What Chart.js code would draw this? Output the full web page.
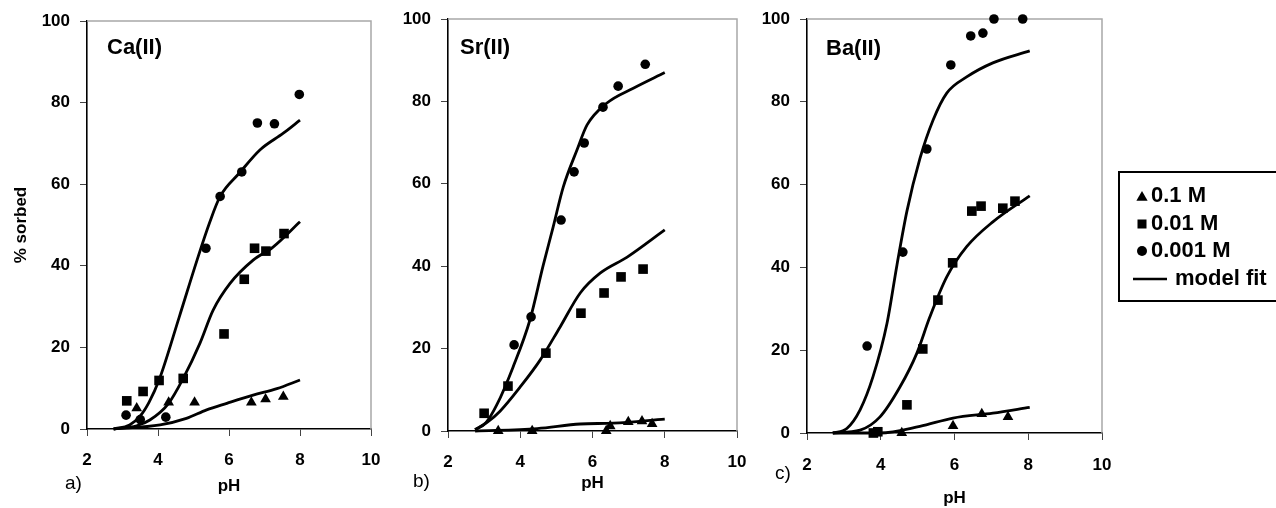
<!DOCTYPE html>
<html><head><meta charset="utf-8">
<script src="https://cdn.jsdelivr.net/npm/chart.js@4/dist/chart.umd.min.js"></script>
<style>
html,body{margin:0;padding:0;background:#fff;}
#wrap{position:relative;width:1276px;height:508px;overflow:hidden;background:#fff;}
canvas{position:absolute;top:0;}
</style></head><body>
<div id="wrap">
<canvas id="ca" width="390" height="508" style="left:0px"></canvas>
<canvas id="sr" width="365" height="508" style="left:390px"></canvas>
<canvas id="ba" width="521" height="508" style="left:755px"></canvas>
</div>
<script>
// ---------- tick labels / text ----------
const xTicks = [2, 4, 6, 8, 10];
const yTicks = [0, 20, 40, 60, 80, 100];
const panelTitles = ['Ca(II)', 'Sr(II)', 'Ba(II)'];
const panelLetters = ['a)', 'b)', 'c)'];
const xTitle = 'pH';
const yTitle = '% sorbed';
const legendLabels = ['0.1 M', '0.01 M', '0.001 M', 'model fit'];

// ---------- Ca(II) ----------
const caTriPH  = [3.4, 4.3, 5.03, 6.63, 7.03, 7.53];
const caTriPct = [5.1, 6.5, 6.5, 6.5, 7.3, 7.9];
const caSqPH   = [3.12, 3.58, 4.03, 4.71, 5.86, 6.43, 6.72, 7.04, 7.55];
const caSqPct  = [6.9, 9.2, 11.9, 12.4, 23.3, 36.7, 44.3, 43.6, 47.9];
const caCirPH  = [3.1, 3.5, 4.22, 5.35, 5.75, 6.36, 6.8, 7.28, 7.98];
const caCirPct = [3.4, 2.3, 2.9, 44.3, 57, 63, 75, 74.8, 82];
const caFit1PH  = [2.75, 4.06, 4.8, 5.37, 5.94, 6.68, 7.35, 8.0];
const caFit1Pct = [0, 1, 2.6, 4.7, 6.3, 8.3, 9.9, 12.0];
const caFit2PH  = [2.75, 3.4, 3.77, 4.3, 4.71, 5.18, 5.55, 6.03, 6.68, 7.24, 8.0];
const caFit2Pct = [0, 0.8, 2.2, 6.3, 12.4, 21, 29.1, 35.7, 41.4, 44.6, 50.8];
const caFit3PH  = [2.75, 3.2, 3.5, 3.75, 4.03, 4.6, 5.1, 5.45, 5.75, 6.3, 6.87, 7.53, 8.0];
const caFit3Pct = [0, 1.0, 3.2, 6.6, 12, 27.5, 41.4, 50.5, 57, 62.8, 68.4, 72.5, 75.7];

// ---------- Sr(II) ----------
const srTriPH  = [3.39, 4.33, 6.38, 6.49, 6.99, 7.37, 7.65];
const srTriPct = [0, 0, 0, 1.2, 2.2, 2.4, 1.7];
const srSqPH   = [3.0, 3.66, 4.71, 5.68, 6.32, 6.79, 7.40];
const srSqPct  = [4.3, 10.9, 18.9, 28.6, 33.5, 37.4, 39.3];
const srCirPH  = [3.83, 4.30, 5.13, 5.49, 5.77, 6.29, 6.71, 7.46];
const srCirPct = [20.9, 27.7, 51.2, 62.9, 69.9, 78.6, 83.7, 89];
const srFit1PH  = [2.75, 4.47, 5.66, 6.57, 8.0];
const srFit1Pct = [0, 0.6, 1.7, 1.9, 2.9];
const srFit2PH  = [2.75, 3.1, 3.44, 4.0, 4.55, 5.1, 5.66, 6.21, 6.96, 8.0];
const srFit2Pct = [0.3, 2.2, 4.8, 10.7, 17.2, 25.2, 33.5, 38.3, 42.2, 48.8];
const srFit3PH  = [2.75, 3.05, 3.36, 3.8, 4.27, 4.63, 4.91, 5.19, 5.57, 5.85, 6.40, 7.13, 8.0];
const srFit3Pct = [0.3, 2.0, 6.5, 15.5, 27, 40, 49.5, 59.2, 68.2, 74.3, 79.6, 83.2, 87];

// ---------- Ba(II) ----------
const baTriPH  = [3.82, 4.57, 5.96, 6.74, 7.45];
const baTriPct = [0, 0, 1.7, 4.6, 3.9];
const baSqPH   = [3.8, 3.92, 4.71, 5.14, 5.55, 5.95, 6.47, 6.72, 7.31, 7.64];
const baSqPct  = [0, 0.3, 6.8, 20.3, 32.1, 41.1, 53.6, 54.8, 54.3, 56.0];
const baCirPH  = [3.63, 4.6, 5.25, 5.9, 6.44, 6.77, 7.07, 7.85];
const baCirPct = [21, 43.7, 68.6, 88.9, 95.9, 96.6, 100, 100];
const baFit1PH  = [2.7, 3.98, 5.06, 5.96, 7.04, 8.04];
const baFit1Pct = [0, 0, 1.6, 3.6, 4.8, 6.2];
const baFit2PH  = [2.7, 3.44, 3.98, 4.52, 4.98, 5.33, 5.79, 6.33, 7.04, 8.04];
const baFit2Pct = [0, 0.7, 3.9, 11.1, 19.3, 28, 37.7, 45, 51, 57.3];
const baFit3PH  = [2.7, 3.08, 3.44, 3.79, 4.17, 4.44, 4.71, 5.06, 5.42, 5.79, 6.33, 7.04, 8.04];
const baFit3Pct = [0, 1.1, 5.6, 13.6, 26.5, 40.6, 53.6, 66.2, 75.6, 82.1, 86, 89.4, 92.3];

// ---------- rendering ----------
const FONT = '"Liberation Sans", Arial, Helvetica, sans-serif';
Chart.defaults.font.family = FONT;
Chart.defaults.color = '#000';

function pts(xs, ys) { return xs.map((x, i) => ({ x: x, y: ys[i] })); }

function fitDs(xs, ys) {
  return { data: pts(xs, ys), showLine: true, borderColor: '#000', borderWidth: 2.8,
    pointRadius: 0, cubicInterpolationMode: 'monotone', fill: false, clip: false, order: 1 };
}
function markDs(xs, ys, style, r) {
  return { data: pts(xs, ys), showLine: false, pointStyle: style, pointRadius: r,
    backgroundColor: '#000', borderColor: '#000', borderWidth: 0, clip: false, order: 0 };
}

const panels = [
  { id: 'ca', left: 0, yW: 87, xH: 79, padR: 19, padT: 21, tickPad: 14,
    titleX: 107, titleY: 48, letterX: 65, letterY: 484, phY: 486, yTitle: true, legend: false,
    tri: [caTriPH, caTriPct], sq: [caSqPH, caSqPct], cir: [caCirPH, caCirPct],
    fits: [[caFit1PH, caFit1Pct], [caFit2PH, caFit2Pct], [caFit3PH, caFit3Pct]] },
  { id: 'sr', left: 390, yW: 58, xH: 77, padR: 18, padT: 19, tickPad: 14,
    titleX: 460, titleY: 48, letterX: 413, letterY: 482, phY: 483, yTitle: false, legend: false,
    tri: [srTriPH, srTriPct], sq: [srSqPH, srSqPct], cir: [srCirPH, srCirPct],
    fits: [[srFit1PH, srFit1Pct], [srFit2PH, srFit2Pct], [srFit3PH, srFit3Pct]] },
  { id: 'ba', left: 755, yW: 52, xH: 75, padR: 174, padT: 19, tickPad: 15,
    titleX: 826, titleY: 49, letterX: 775, letterY: 474, phY: 498, yTitle: false, legend: true,
    tri: [baTriPH, baTriPct], sq: [baSqPH, baSqPct], cir: [baCirPH, baCirPct],
    fits: [[baFit1PH, baFit1Pct], [baFit2PH, baFit2Pct], [baFit3PH, baFit3Pct]] }
];

function drawTri(ctx, x, y, r) {
  ctx.beginPath();
  ctx.moveTo(x, y - r);
  ctx.lineTo(x + r * 0.866, y + r * 0.5);
  ctx.lineTo(x - r * 0.866, y + r * 0.5);
  ctx.closePath(); ctx.fill();
}

panels.forEach((p, idx) => {
  const L = p.left;
  const framePlugin = {
    id: 'frame' + idx,
    beforeDatasetsDraw(chart) {
      const a = chart.chartArea, ctx = chart.ctx;
      ctx.save();
      ctx.strokeStyle = '#a8a8a8'; ctx.lineWidth = 1.5;
      ctx.beginPath();
      ctx.moveTo(a.left, a.top); ctx.lineTo(a.right, a.top); ctx.lineTo(a.right, a.bottom);
      ctx.stroke();
      ctx.restore();
    },
    afterDraw(chart) {
      const a = chart.chartArea, ctx = chart.ctx;
      ctx.save();
      ctx.fillStyle = '#000';
      ctx.textBaseline = 'middle';
      ctx.font = 'bold 22px ' + FONT; ctx.textAlign = 'left';
      ctx.fillText(panelTitles[idx], p.titleX - L, p.titleY);
      ctx.font = '19px ' + FONT;
      ctx.fillText(panelLetters[idx], p.letterX - L, p.letterY);
      ctx.font = 'bold 17px ' + FONT; ctx.textAlign = 'center';
      ctx.fillText(xTitle, (a.left + a.right) / 2, p.phY);
      if (p.yTitle) {
        ctx.save();
        ctx.translate(21, (a.top + a.bottom) / 2);
        ctx.rotate(-Math.PI / 2);
        ctx.font = 'bold 17px ' + FONT;
        ctx.fillText(yTitle, 0, 0);
        ctx.restore();
      }
      if (p.legend) {
        const bx = 1119 - L, by = 172, bh = 129;
        ctx.strokeStyle = '#000'; ctx.lineWidth = 2;
        ctx.strokeRect(bx, by, 200, bh);
        const mx = 1142 - L, tx = 1151 - L;
        const rows = [196, 224, 251, 279];
        drawTri(ctx, mx, rows[0] + 1.5, 6.5);
        ctx.fillRect(mx - 4.5, rows[1] - 4.5, 9, 9);
        ctx.beginPath(); ctx.arc(mx, rows[2], 5, 0, Math.PI * 2); ctx.fill();
        ctx.lineWidth = 2.6;
        ctx.beginPath(); ctx.moveTo(1133 - L, rows[3]); ctx.lineTo(1167 - L, rows[3]); ctx.stroke();
        ctx.font = 'bold 22px ' + FONT; ctx.textAlign = 'left';
        ctx.fillText(legendLabels[0], tx, rows[0]);
        ctx.fillText(legendLabels[1], tx, rows[1]);
        ctx.fillText(legendLabels[2], tx, rows[2]);
        ctx.fillText(legendLabels[3], 1175 - L, rows[3]);
      }
      ctx.restore();
    }
  };

  new Chart(document.getElementById(p.id), {
    type: 'scatter',
    data: {
      datasets: [
        fitDs(p.fits[0][0], p.fits[0][1]),
        fitDs(p.fits[1][0], p.fits[1][1]),
        fitDs(p.fits[2][0], p.fits[2][1]),
        markDs(p.tri[0], p.tri[1], 'triangle', 6.2),
        markDs(p.sq[0], p.sq[1], 'rect', 6.8),
        markDs(p.cir[0], p.cir[1], 'circle', 4.8)
      ]
    },
    options: {
      responsive: false,
      animation: false,
      events: [],
      layout: { autoPadding: false, padding: { left: 0, top: p.padT, right: p.padR, bottom: 0 } },
      plugins: { legend: { display: false }, tooltip: { enabled: false }, title: { display: false } },
      scales: {
        x: {
          type: 'linear', min: 2, max: 10,
          afterBuildTicks: s => { s.ticks = xTicks.map(v => ({ value: v })); },
          afterFit: s => { s.height = p.xH; s.paddingLeft = 0; s.paddingRight = 0; },
          ticks: { font: { size: 17, weight: 'bold' }, color: '#000', padding: p.tickPad, maxRotation: 0 },
          grid: { drawOnChartArea: false, drawTicks: true, tickLength: 7, color: '#444', lineWidth: 1 },
          border: { display: true, color: '#000', width: 1.6 }
        },
        y: {
          type: 'linear', min: 0, max: 100,
          afterBuildTicks: s => { s.ticks = yTicks.map(v => ({ value: v })); },
          afterFit: s => { s.width = p.yW; s.paddingTop = 0; s.paddingBottom = 0; },
          ticks: { font: { size: 17, weight: 'bold' }, color: '#000', padding: 10 },
          grid: { drawOnChartArea: false, drawTicks: true, tickLength: 7, color: '#444', lineWidth: 1 },
          border: { display: true, color: '#000', width: 1.6 }
        }
      }
    },
    plugins: [framePlugin]
  });
});
</script>
</body></html>
